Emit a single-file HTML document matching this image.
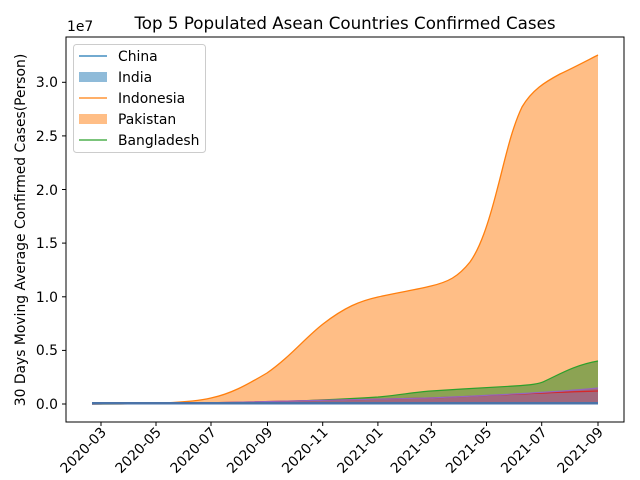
<!DOCTYPE html>
<html><head><meta charset="utf-8"><style>body{margin:0;background:#fff}svg{display:block}text{font-family:"DejaVu Sans","Liberation Sans",sans-serif}</style></head>
<body>
<svg width="640" height="480" viewBox="0 0 640 480" xmlns="http://www.w3.org/2000/svg">
<rect width="640" height="480" fill="#fff"/>
<path d="M92,404 C150,404 190,403 211,398 C230,394 245,386 267,373 C290,357 305,338 323,324 C345,307 360,301 378,297 C400,292 415,290 431,286 C448,282 458,277 470,262 C480,248 488,225 497,190 C505,160 511,130 522,107 C532,90 545,82 560,74 C575,67 590,59 598,55 L598,404 Z" fill="#ffbe86"/>
<path d="M92,404 C150,404 190,403 211,398 C230,394 245,386 267,373 C290,357 305,338 323,324 C345,307 360,301 378,297 C400,292 415,290 431,286 C448,282 458,277 470,262 C480,248 488,225 497,190 C505,160 511,130 522,107 C532,90 545,82 560,74 C575,67 590,59 598,55" fill="none" stroke="#ff7f0e" stroke-width="1.3"/>
<path d="M92,404 L211,403.5 C280,402 330,400 378,397 C400,395 415,392 431,391 C460,389 480,388 514,386 C530,385 540,384 545,381 C560,374 575,365 598,361 L598,404 Z" fill="#8ca353"/>
<path d="M92,404 L211,403.5 C280,402 330,400 378,397 C400,395 415,392 431,391 C460,389 480,388 514,386 C530,385 540,384 545,381 C560,374 575,365 598,361" fill="none" stroke="#2ca02c" stroke-width="1.2"/>
<path d="M92,404 L200,403 C280,401 350,400 430,398 C500,395 560,392 598,388 L598,404 Z" fill="#a2677c"/>
<path d="M92,404 L200,403 C280,401 350,400 430,398 C500,395 560,392 598,391" fill="none" stroke="#d62728" stroke-width="1.2"/>
<path d="M92,404 L200,403 C280,401 350,400 430,398 C500,395 560,392 598,388" fill="none" stroke="#9467bd" stroke-width="1.2"/>
<rect x="92" y="402" width="506" height="2.5" fill="#4a73a8"/>
<rect x="66" y="37" width="558" height="385" fill="none" stroke="#000" stroke-width="1"/>
<g font-size="13.9" text-anchor="end" fill="#000">
<g stroke="#000"><line x1="62" y1="404" x2="66" y2="404"/><line x1="62" y1="350.4" x2="66" y2="350.4"/><line x1="62" y1="296.8" x2="66" y2="296.8"/><line x1="62" y1="243.1" x2="66" y2="243.1"/><line x1="62" y1="189.5" x2="66" y2="189.5"/><line x1="62" y1="135.9" x2="66" y2="135.9"/><line x1="62" y1="82.3" x2="66" y2="82.3"/></g>
<text x="58" y="409">0.0</text><text x="58" y="355">0.5</text><text x="58" y="302">1.0</text><text x="58" y="248">1.5</text><text x="58" y="195">2.0</text><text x="58" y="141">2.5</text><text x="58" y="87">3.0</text>
</g>
<text x="67" y="31" font-size="13.9">1e7</text>
<text transform="translate(25,230) rotate(-90)" font-size="13.9" text-anchor="middle">30 Days Moving Average Confirmed Cases(Person)</text>
<text x="345" y="29" font-size="16.7" text-anchor="middle">Top 5 Populated Asean Countries Confirmed Cases</text>
<g font-size="13.9" text-anchor="end">
<g stroke="#000">
<line x1="101" y1="422" x2="101" y2="426"/><line x1="156" y1="422" x2="156" y2="426"/><line x1="211" y1="422" x2="211" y2="426"/><line x1="267.5" y1="422" x2="267.5" y2="426"/><line x1="322.7" y1="422" x2="322.7" y2="426"/><line x1="377.9" y1="422" x2="377.9" y2="426"/><line x1="431.3" y1="422" x2="431.3" y2="426"/><line x1="486.5" y1="422" x2="486.5" y2="426"/><line x1="541.7" y1="422" x2="541.7" y2="426"/><line x1="598" y1="422" x2="598" y2="426"/></g>
<text transform="translate(107,433) rotate(-45)">2020-03</text>
<text transform="translate(162,433) rotate(-45)">2020-05</text>
<text transform="translate(217,433) rotate(-45)">2020-07</text>
<text transform="translate(273.5,433) rotate(-45)">2020-09</text>
<text transform="translate(328.7,433) rotate(-45)">2020-11</text>
<text transform="translate(383.9,433) rotate(-45)">2021-01</text>
<text transform="translate(437.3,433) rotate(-45)">2021-03</text>
<text transform="translate(492.5,433) rotate(-45)">2021-05</text>
<text transform="translate(547.7,433) rotate(-45)">2021-07</text>
<text transform="translate(604,433) rotate(-45)">2021-09</text>
</g>
<rect x="73.5" y="44.5" width="132" height="108" rx="3" fill="#fff" fill-opacity="0.8" stroke="#ccc"/>
<g font-size="13.9">
<line x1="79" y1="56" x2="107" y2="56" stroke="#1f77b4" stroke-width="1.3"/><text x="118" y="61">China</text>
<rect x="79" y="72" width="28" height="10" fill="#8fbbd9"/><text x="118" y="82">India</text>
<line x1="79" y1="98" x2="107" y2="98" stroke="#ff7f0e" stroke-width="1.3"/><text x="118" y="103">Indonesia</text>
<rect x="79" y="114" width="28" height="10" fill="#ffbe86"/><text x="118" y="124">Pakistan</text>
<line x1="79" y1="140" x2="107" y2="140" stroke="#2ca02c" stroke-width="1.3"/><text x="118" y="145">Bangladesh</text>
</g>
</svg>
</body></html>
